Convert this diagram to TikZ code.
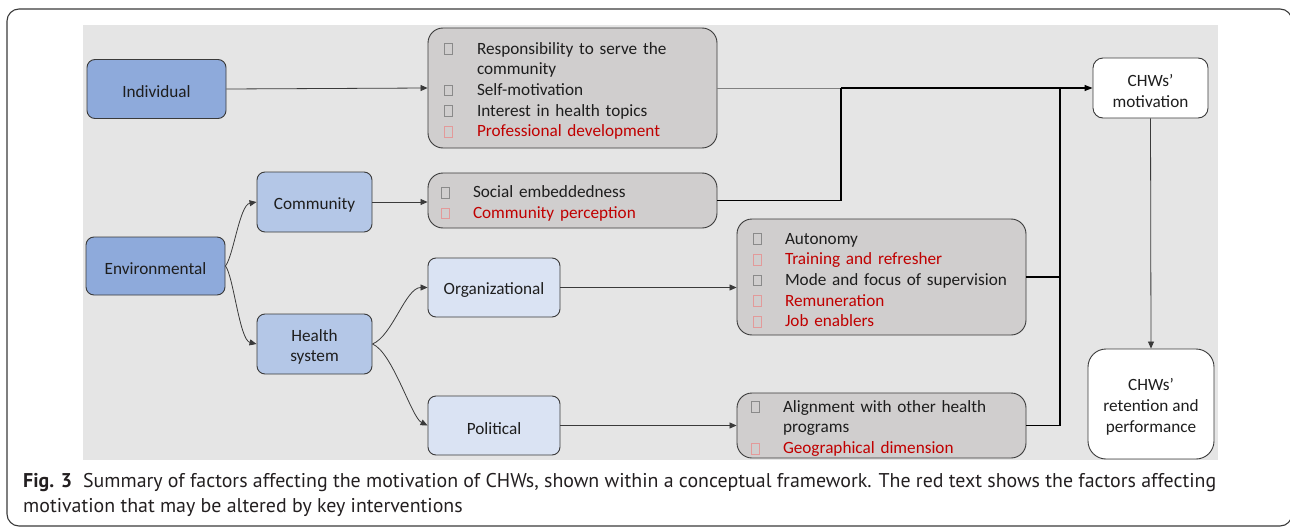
\documentclass[tikz,border=0pt]{standalone}
\usepackage{fontspec}
\usetikzlibrary{arrows.meta}
\setmainfont{Carlito}
\newfontfamily\capfont{PT Sans}
\definecolor{bgray}{HTML}{E5E5E5}
\definecolor{dblue}{HTML}{8EAADB}
\definecolor{mblue}{HTML}{B4C7E7}
\definecolor{lblue}{HTML}{DAE3F3}
\definecolor{fgray}{HTML}{D0CECE}
\definecolor{edge}{HTML}{3A3A3A}
\definecolor{txt}{HTML}{1E1E1E}
\definecolor{txtred}{HTML}{C00000}
\definecolor{sqgray}{HTML}{8A8A8A}
\definecolor{sqred}{HTML}{E39A9A}
\definecolor{captxt}{HTML}{231F20}
\newlength{\itgap}
\newcommand{\sqbox}[1]{\makebox[\itgap][l]{\textcolor{#1}{\fboxrule=0.7pt\fboxsep=0pt\fbox{\rule{0pt}{10pt}\hspace{7.6pt}}}}}
\newcommand{\gitem}[1]{\sqbox{sqgray}#1}
\newcommand{\ritem}[1]{\sqbox{sqred}{\color{txtred}#1}}
\newcommand{\cont}[1]{\hspace*{\itgap}#1}
\newcommand{\tallstrut}{\rule{0pt}{17.6pt}}
\tikzset{
  box/.style={draw=edge, line width=0.9pt, text=txt, align=center, inner sep=0pt,
    font=\fontsize{17.2}{20.7}\selectfont,
    execute at begin node={\tallstrut}},
  bluebox/.style={box, fill=dblue, rounded corners=8pt},
  midbox/.style={box, fill=mblue, rounded corners=8pt},
  litebox/.style={box, fill=lblue, rounded corners=8pt},
  whitebox/.style={box, fill=white},
  factor/.style={box, fill=fgray, rounded corners=15pt, align=left},
  conn/.style={draw=edge, line width=0.8pt, -{Triangle[length=7pt,width=6pt]}},
  bus/.style={draw=black, line width=1.2pt},
}
\begin{document}
\begin{tikzpicture}[x=1pt,y=-1pt]
\useasboundingbox (0,0) rectangle (1290,527);
\draw[draw=edge, line width=1.1pt, rounded corners=12pt] (7,9) rectangle (1292,526);
\fill[bgray] (83,25) rectangle (1218,460);

\node[bluebox, minimum width=139pt, minimum height=59pt] (ind) at (156.5,89) {Individual};
\node[bluebox, minimum width=139pt, minimum height=58pt] (env) at (155.5,266) {Environmental};
\node[midbox, minimum width=115pt, minimum height=60pt] (com) at (314.5,202) {Community};
\node[midbox, minimum width=115pt, minimum height=60pt] (hs) at (314.5,344) {\tallstrut Health\\system};
\node[litebox, minimum width=132pt, minimum height=59pt] (org) at (494,287.5) {Organizational};
\node[litebox, minimum width=132pt, minimum height=59pt] (pol) at (494,425.5) {Political};

\setlength{\itgap}{33pt}
\node[factor, minimum width=289pt, minimum height=120pt, text width=257pt, inner xsep=16pt] (indf) at (572.5,88)
  {\gitem{Responsibility to serve the}\\\cont{community}\\\gitem{Self-motivation}\\\gitem{Interest in health topics}\\\ritem{Professional development}};
\setlength{\itgap}{32pt}
\node[factor, minimum width=289pt, minimum height=55pt, text width=263pt, inner xsep=13pt] (comf) at (572.5,200.5)
  {\gitem{Social embeddedness}\\\ritem{Community perception}};
\setlength{\itgap}{32pt}
\node[factor, minimum width=289pt, minimum height=116pt, text width=257pt, inner xsep=16pt] (orgf) at (881.5,277)
  {\gitem{Autonomy}\\\ritem{Training and refresher}\\\gitem{Mode and focus of supervision}\\\ritem{Remuneration}\\\ritem{Job enablers}};
\setlength{\itgap}{32pt}
\node[factor, minimum width=289pt, minimum height=65pt, text width=261pt, inner xsep=14pt] (polf) at (881.5,425.5)
  {\gitem{Alignment with other health}\\\cont{programs}\\\ritem{Geographical dimension}};

\node[whitebox, rounded corners=10pt, minimum width=115pt, minimum height=60pt] (mot) at (1150.5,88) {\tallstrut CHWs’\\motivation};
\node[whitebox, rounded corners=18pt, minimum width=126pt, minimum height=110pt] (ret) at (1151,404) {\tallstrut CHWs’\\retention and\\performance};

\coordinate (j1) at (841,88);
\coordinate (j2) at (1060,88);

% inputs
\draw[conn] (ind.east) -- (indf.west);
\draw[conn] (com.east) -- (com.east -| comf.west);
\draw[conn] (org.east) -- (org.east -| orgf.west);
\draw[conn] (pol.east) -- (pol.east -| polf.west);
\draw[conn] (env.east) .. controls +(8,-10) and +(-17,3) .. (com.west);
\draw[conn] (env.east) .. controls +(8,10) and +(-17,-4) .. (hs.west);
\draw[conn] (hs.east) .. controls +(20,-8) and +(-22,0) .. (org.west);
\draw[conn] (hs.east) .. controls +(20,8) and +(-16,-8) .. (pol.west);

% collectors
\draw[draw=gray, line width=1pt] (indf.east) -- (j1);
\draw[bus] (comf.east) -| (j1);
\draw[bus] (orgf.east) -| (j2);
\draw[bus] (polf.east) -| (j2);
\draw[bus, -{Triangle[length=8pt,width=6pt]}] (j1) -- (mot.west);
\draw[conn] (mot.south) -- (ret.north);

\node[anchor=base west, inner sep=0pt, align=left, text=captxt,
  font=\capfont\fontsize{19.9}{25.3}\selectfont] (cap) at (23,512.5)
  {\textbf{Fig. 3}\hspace{0.55em}Summary of factors affecting the motivation of CHWs, shown within a conceptual framework. The red text shows the factors affecting\\motivation that may be altered by key interventions};
\end{tikzpicture}
\end{document}
